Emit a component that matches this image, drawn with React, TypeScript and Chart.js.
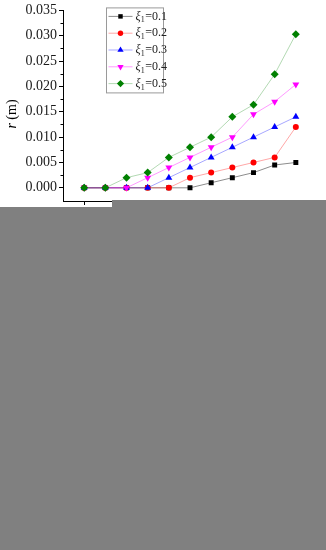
import React, { useEffect, useRef } from "react";
import { Chart, registerables } from "chart.js";

Chart.register(...registerables);

const xValues = [1, 2, 3, 4, 5, 6, 7, 8, 9, 10, 11];
const xTickValues = [1, 3, 5, 7, 9, 11];
const seriesNames = ["0.1", "0.2", "0.3", "0.4", "0.5"];
const xi01 = [0, 0, 0, 0, 0, 0, 0.001, 0.002, 0.003, 0.0045, 0.005];
const xi02 = [0, 0, 0, 0, 0, 0.002, 0.003, 0.004, 0.005, 0.006, 0.012];
const xi03 = [0, 0, 0, 0, 0.002, 0.004, 0.006, 0.008, 0.01, 0.012, 0.014];
const xi04 = [0, 0, 0, 0.002, 0.004, 0.006, 0.008, 0.01, 0.0145, 0.017, 0.0204];
const xi05 = [0, 0, 0.002, 0.003, 0.006, 0.008, 0.01, 0.014, 0.0164, 0.0224, 0.0303];
const yMajorTicks = [0, 0.005, 0.01, 0.015, 0.02, 0.025, 0.03, 0.035];
const yMinorTicks = [0.0025, 0.0075, 0.0125, 0.0175, 0.0225, 0.0275, 0.0325];

const seriesValues = [xi01, xi02, xi03, xi04, xi05];
const markerColors = ["#000000", "#ff0000", "#0000ff", "#ff00ff", "#008000"];
const lineColors = ["rgba(0,0,0,0.45)", "rgba(255,0,0,0.35)", "rgba(0,0,255,0.35)", "rgba(255,0,255,0.4)", "rgba(0,128,0,0.3)"];
const markerStyles = ["rect", "circle", "triangle", "triangle", "rectRot"];
const markerRotations = [0, 0, 0, 180, 0];
const markerRadii = [3.5, 3, 4, 4, 4];

const SERIF = '"Liberation Serif", "Times New Roman", serif';

function drawMarker(ctx: CanvasRenderingContext2D, style: string, r: number, rotDeg: number, x: number, y: number) {
  ctx.save();
  ctx.translate(x, y);
  ctx.rotate((rotDeg * Math.PI) / 180);
  ctx.beginPath();
  if (style === "rect") {
    const s = Math.SQRT1_2 * r;
    ctx.rect(-s, -s, 2 * s, 2 * s);
  } else if (style === "circle") {
    ctx.arc(0, 0, r, 0, Math.PI * 2);
  } else if (style === "triangle") {
    const a = -Math.PI / 2;
    for (let k = 0; k < 3; k++) {
      const ang = a + (k * 2 * Math.PI) / 3;
      const px = Math.cos(ang) * r;
      const py = Math.sin(ang) * r;
      if (k === 0) ctx.moveTo(px, py);
      else ctx.lineTo(px, py);
    }
    ctx.closePath();
  } else {
    ctx.moveTo(0, -r);
    ctx.lineTo(r, 0);
    ctx.lineTo(0, r);
    ctx.lineTo(-r, 0);
    ctx.closePath();
  }
  ctx.fill();
  ctx.restore();
}

const overlayPlugin = {
  id: "overlayPlugin",
  afterDraw(chart: any) {
    const ctx = chart.ctx;
    const area = chart.chartArea;
    const yScale = chart.scales.y;

    // minor ticks on y axis
    ctx.save();
    ctx.strokeStyle = "#000";
    ctx.lineWidth = 1;
    yMinorTicks.forEach((v) => {
      const py = Math.round(yScale.getPixelForValue(v)) + 0.5;
      ctx.beginPath();
      ctx.moveTo(area.left - 2.5, py);
      ctx.lineTo(area.left, py);
      ctx.stroke();
    });
    ctx.restore();

    // y-axis title: italic r + (m)
    ctx.save();
    ctx.translate(12, 114);
    ctx.rotate(-Math.PI / 2);
    ctx.fillStyle = "#000";
    ctx.textBaseline = "middle";
    ctx.font = `italic 14px ${SERIF}`;
    const w1 = ctx.measureText("r").width;
    ctx.font = `14px ${SERIF}`;
    const w2 = ctx.measureText(" (m)").width;
    const x0 = -(w1 + w2) / 2;
    ctx.font = `italic 14px ${SERIF}`;
    ctx.textAlign = "left";
    ctx.fillText("r", x0, 0);
    ctx.font = `14px ${SERIF}`;
    ctx.fillText(" (m)", x0 + w1, 0);
    ctx.restore();

    // legend
    const bx = area.left + 43.5;
    const by = area.top - 2.5;
    const bw = 57;
    const bh = 85;
    ctx.save();
    ctx.fillStyle = "#fff";
    ctx.fillRect(bx, by, bw, bh);
    ctx.strokeStyle = "#9a9a9a";
    ctx.lineWidth = 1;
    ctx.strokeRect(bx, by, bw, bh);
    chart.data.datasets.forEach((ds: any, i: number) => {
      const ry = by + 8.5 + i * 16.8;
      ctx.strokeStyle = lineColors[i];
      ctx.lineWidth = 1;
      ctx.beginPath();
      ctx.moveTo(bx + 2, ry);
      ctx.lineTo(bx + 26, ry);
      ctx.stroke();
      ctx.fillStyle = markerColors[i];
      drawMarker(ctx, markerStyles[i], markerRadii[i] * 0.9, markerRotations[i], bx + 14, ry);
      let tx = bx + 29;
      ctx.fillStyle = "#222";
      ctx.textBaseline = "middle";
      ctx.textAlign = "left";
      ctx.font = `italic 12px ${SERIF}`;
      ctx.fillText("ξ", tx, ry);
      tx += ctx.measureText("ξ").width;
      ctx.font = `8px ${SERIF}`;
      ctx.fillText("1", tx, ry + 4);
      tx += ctx.measureText("1").width + 0.5;
      ctx.font = `12px ${SERIF}`;
      ctx.fillText("=" + seriesNames[i], tx, ry);
    });
    ctx.restore();
  },
};

export default function App() {
  const canvasRef = useRef<HTMLCanvasElement | null>(null);

  useEffect(() => {
    const canvas = canvasRef.current;
    if (!canvas) return;
    const datasets = seriesValues.map((vals, i) => ({
      label: "ξ1=" + seriesNames[i],
      data: vals.map((v, k) => ({ x: xValues[k], y: v })),
      borderColor: lineColors[i],
      backgroundColor: markerColors[i],
      pointBackgroundColor: markerColors[i],
      pointBorderColor: markerColors[i],
      pointBorderWidth: 0,
      pointStyle: markerStyles[i],
      pointRotation: markerRotations[i],
      pointRadius: markerRadii[i],
      borderWidth: 1,
      tension: 0,
      fill: false,
      order: seriesValues.length - i,
    }));

    const chart = new Chart(canvas, {
      type: "line",
      data: { datasets },
      options: {
        animation: false,
        responsive: false,
        maintainAspectRatio: false,
        layout: { padding: { left: 0, top: 10, right: 9, bottom: 0 } },
        plugins: { legend: { display: false }, tooltip: { enabled: false } },
        scales: {
          x: {
            type: "linear",
            min: 0,
            max: 12,
            afterBuildTicks: (scale: any) => {
              scale.ticks = xTickValues.map((v) => ({ value: v }));
            },
            afterFit: (scale: any) => {
              scale.height = 39;
            },
            ticks: { display: false },
            grid: {
              drawOnChartArea: false,
              drawTicks: true,
              tickLength: 4,
              color: "#000",
              tickColor: "#000",
            },
            border: { display: true, color: "#000", width: 1 },
          },
          y: {
            type: "linear",
            min: -0.0026,
            max: 0.035,
            afterBuildTicks: (scale: any) => {
              scale.ticks = yMajorTicks.map((v) => ({ value: v }));
            },
            afterFit: (scale: any) => {
              scale.width = 63;
            },
            ticks: {
              color: "#1a1a1a",
              padding: 2,
              font: { family: SERIF, size: 14 },
              callback: (v: any) => Number(v).toFixed(3),
            },
            grid: {
              drawOnChartArea: false,
              drawTicks: true,
              tickLength: 4,
              color: "#000",
              tickColor: "#000",
            },
            border: { display: true, color: "#000", width: 1 },
          },
        },
      },
      plugins: [overlayPlugin],
    });
    return () => chart.destroy();
  }, []);

  return (
    <div style={{ position: "absolute", left: 0, top: 0, width: 326, height: 550, background: "#fff", overflow: "hidden" }}>
      <canvas ref={canvasRef} width={326} height={240} style={{ position: "absolute", left: 0, top: 0, width: 326, height: 240 }} />
      <div style={{ position: "absolute", left: 0, top: 207, width: 326, height: 343, background: "#808080" }} />
      <div style={{ position: "absolute", left: 112, top: 200, width: 214, height: 7, background: "#808080" }} />
    </div>
  );
}
